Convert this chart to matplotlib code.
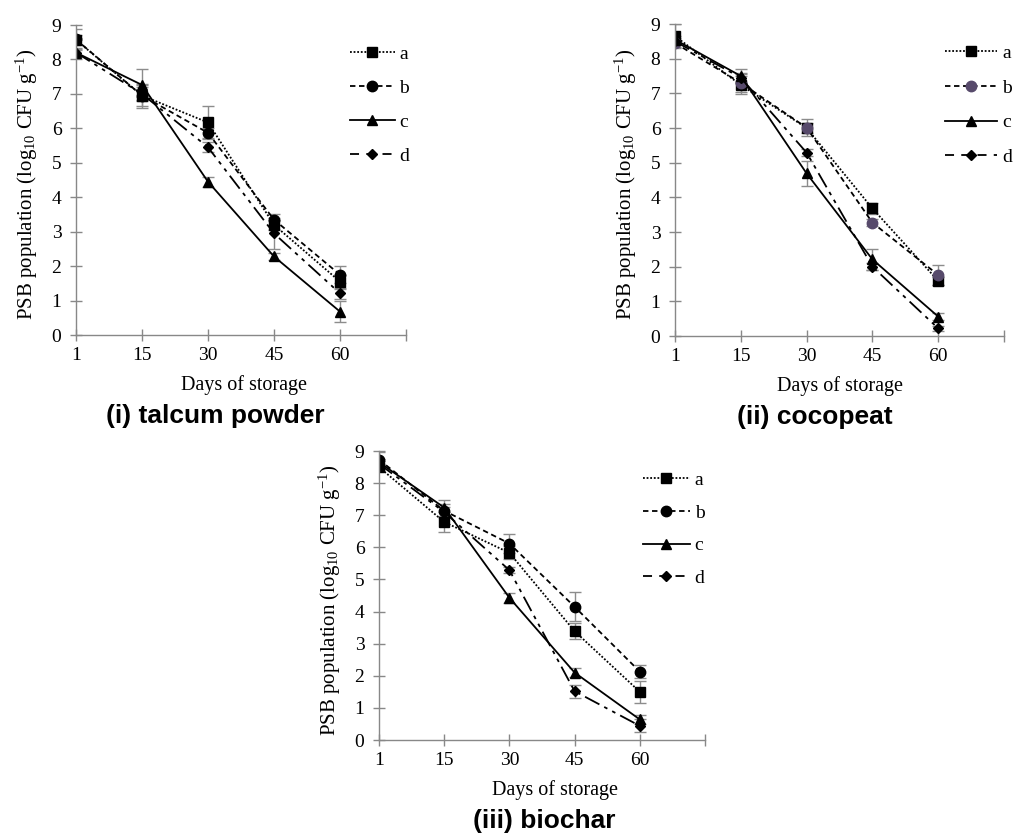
import matplotlib.pyplot as plt
from matplotlib.lines import Line2D

plt.rcParams['font.family'] = 'Liberation Serif'
plt.rcParams['mathtext.fontset'] = 'custom'
plt.rcParams['mathtext.rm'] = 'Liberation Serif'
plt.rcParams['mathtext.it'] = 'Liberation Serif:italic'

days = ['1', '15', '30', '45', '60']
series = ['a', 'b', 'c', 'd']

# (i) talcum powder
talc_a = [8.57, 6.95, 6.17, 3.2, 1.55]
talc_b = [8.58, 6.95, 5.87, 3.35, 1.75]
talc_c = [8.2, 7.26, 4.45, 2.28, 0.68]
talc_d = [8.2, 7.0, 5.45, 2.95, 1.21]
talc_err_a = [0.15, 0.35, 0.48, 0.15, 0.2]
talc_err_b = [0.3, 0.3, 0.15, 0.15, 0.25]
talc_err_c = [0.12, 0.45, 0.15, 0.1, 0.3]
talc_err_d = [0.1, 0.2, 0.15, 0.45, 0.15]

# (ii) cocopeat
coco_a = [8.65, 7.24, 6.0, 3.68, 1.59]
coco_b = [8.45, 7.3, 6.01, 3.27, 1.76]
coco_c = [8.55, 7.5, 4.69, 2.21, 0.56]
coco_d = [8.5, 7.45, 5.29, 2.0, 0.22]
coco_err_a = [0.35, 0.25, 0.15, 0.15, 0.12]
coco_err_b = [0.1, 0.25, 0.25, 0.1, 0.3]
coco_err_c = [0.1, 0.2, 0.35, 0.3, 0.1]
coco_err_d = [0.1, 0.15, 0.1, 0.1, 0.08]

# (iii) biochar
bio_a = [8.5, 6.79, 5.83, 3.39, 1.5]
bio_b = [8.73, 7.14, 6.12, 4.15, 2.13]
bio_c = [8.65, 7.24, 4.43, 2.1, 0.64]
bio_d = [8.6, 7.1, 5.29, 1.52, 0.44]
bio_err_a = [0.1, 0.3, 0.2, 0.25, 0.35]
bio_err_b = [0.25, 0.2, 0.3, 0.45, 0.2]
bio_err_c = [0.1, 0.25, 0.15, 0.15, 0.15]
bio_err_d = [0.1, 0.15, 0.1, 0.2, 0.2]

styles = {
    'a': dict(ls=(0, (1, 1)), marker='s', ms=6.5),
    'b': dict(ls=(0, (3, 2)), marker='o', ms=7.5),
    'c': dict(ls='-', marker='^', ms=7.5),
    'd': dict(ls=(0, (9, 3, 2, 3, 2, 3)), marker='D', ms=5.5),
}
legend_ls = {'a': (0, (1, 1)), 'b': (0, (3, 2)), 'c': '-', 'd': (0, (5, 4))}

fig = plt.figure(figsize=(10.16, 8.34), dpi=100)


def panel(rect, vals, errs, title, title_xy, xlab_x, leg_xy, hlen, lspace, bcolor='black'):
    ax = fig.add_axes(rect)
    x = list(range(len(days)))
    for name, v, e in zip(series, vals, errs):
        st = styles[name]
        col = bcolor if name == 'b' else 'black'
        ax.errorbar(x, v, yerr=e, color='black', ls=st['ls'], lw=1.3,
                    marker=st['marker'], ms=st['ms'], mfc=col, mec=col,
                    ecolor='#8c8c8c', elinewidth=1, capsize=4, capthick=1)
    ax.set_xlim(0, 5)
    ax.set_ylim(0, 9)
    ax.set_xticks(range(6))
    ax.set_xticklabels(days + [''])
    ax.set_yticks(range(10))
    for s in ['top', 'right']:
        ax.spines[s].set_visible(False)
    for s in ['left', 'bottom']:
        ax.spines[s].set_color('#888888')
        ax.spines[s].set_linewidth(1)
    ax.tick_params(direction='inout', length=9, width=1, color='#888888',
                   labelsize=14)
    ax.tick_params(axis='y', pad=6)
    ax.tick_params(axis='x', pad=4)
    h = rect[3] * 834
    ax.set_xlabel('Days of storage', fontsize=14.5)
    ax.xaxis.set_label_coords(xlab_x, -40 / h)
    ax.set_ylabel(r'PSB population (log$_{10}$ CFU g$^{-1}$)', fontsize=15)
    ax.yaxis.set_label_coords(-36 / (rect[2] * 1016), 0.485)
    handles = []
    for name in series:
        st = styles[name]
        col = bcolor if name == 'b' else 'black'
        handles.append(Line2D([], [], color='black', ls=legend_ls[name], lw=1.3,
                              marker=st['marker'], ms=st['ms'], mfc=col, mec=col))
    ax.legend(handles, series, loc='upper left', bbox_to_anchor=leg_xy,
              frameon=False, fontsize=14, handlelength=hlen, handletextpad=0.25,
              labelspacing=lspace, borderpad=0, borderaxespad=0)
    fig.text(title_xy[0], title_xy[1], title, ha='center', va='center',
             fontsize=19, fontweight='bold', family='Liberation Sans')
    return ax


panel([0.0748, 0.5983, 0.3248, 0.3717],
      [talc_a, talc_b, talc_c, talc_d],
      [talc_err_a, talc_err_b, talc_err_c, talc_err_d],
      '(i) talcum powder', (215 / 1016, 1 - 416 / 834), 0.51, (0.83, 0.935), 2.3, 0.85)
panel([0.6644, 0.5971, 0.3238, 0.3741],
      [coco_a, coco_b, coco_c, coco_d],
      [coco_err_a, coco_err_b, coco_err_c, coco_err_d],
      '(ii) cocopeat', (815 / 1016, 1 - 417 / 834), 0.5, (0.82, 0.935), 2.7, 0.88,
      bcolor='#574a6b')
panel([0.373, 0.1127, 0.3209, 0.3465],
      [bio_a, bio_b, bio_c, bio_d],
      [bio_err_a, bio_err_b, bio_err_c, bio_err_d],
      '(iii) biochar', (544 / 1016, 1 - 821 / 834), 0.54, (0.81, 0.93), 2.4, 0.78)

fig.savefig('out.png', dpi=100)
